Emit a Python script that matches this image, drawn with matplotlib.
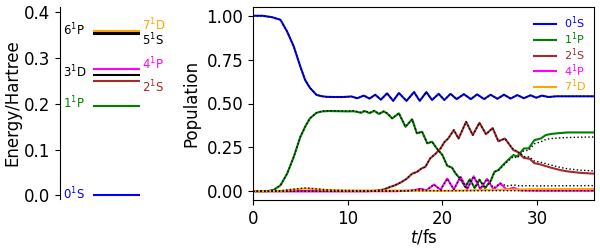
import matplotlib
matplotlib.use("Agg")
import matplotlib.pyplot as plt

# ---------------- data ----------------
# energy levels (Hartree)
level_names = ["0$^1$S", "1$^1$P", "2$^1$S", "3$^1$D", "4$^1$P", "5$^1$S", "6$^1$P", "7$^1$D"]
level_energy = [0.0, 0.194, 0.249, 0.262, 0.275, 0.351, 0.354, 0.358]
level_colors = ["blue", "green", "brown", "black", "magenta", "black", "black", "orange"]
level_label_side = ["left", "left", "right", "left", "right", "right", "left", "right"]
level_label_y = [0.004, 0.201, 0.236, 0.269, 0.287, 0.338, 0.361, 0.372]

# populations (t in fs)
t_0S = [0, 1.0, 2.0, 2.9, 3.6, 4.3, 5.0, 5.5, 6.0, 6.7, 7.3, 7.8, 8.5, 9.5, 10.4, 11.0, 11.7, 12.3,
        12.9, 13.5, 14.15, 14.8, 15.4, 16.2, 17.0, 17.6, 18.3, 18.9, 19.6, 20.2, 20.85, 21.5, 22.26,
        23.0, 23.66, 24.4, 25.08, 25.8, 26.5, 27.2, 27.9, 28.6, 29.3, 29.9, 30.5, 31.2, 32.0, 34.0, 36.0]
pop_0S = [1.0, 1.0, 0.992, 0.977, 0.91, 0.825, 0.71, 0.634, 0.59, 0.549, 0.541, 0.538, 0.537, 0.537,
          0.54, 0.53, 0.545, 0.528, 0.55, 0.522, 0.558, 0.515, 0.56, 0.515, 0.565, 0.515, 0.565, 0.52,
          0.555, 0.52, 0.555, 0.525, 0.553, 0.525, 0.552, 0.525, 0.55, 0.527, 0.55, 0.528, 0.548, 0.53,
          0.547, 0.533, 0.545, 0.537, 0.541, 0.541, 0.541]

t_1P = [0, 1.5, 2.2, 2.9, 3.6, 4.3, 5.0, 5.5, 6.0, 6.7, 7.3, 8.0, 9.0, 10.0, 10.6, 11.0, 11.4, 11.8,
        12.3, 12.8, 13.3, 13.8, 14.15, 14.7, 15.4, 16.1, 16.8, 17.3, 17.85, 18.4, 18.9, 19.4, 20.0,
        20.5, 21.0, 21.4, 21.9, 22.4, 22.9, 23.4, 23.9, 24.5, 25.1, 25.5, 25.9, 26.4, 26.9, 27.5,
        27.9, 28.6, 29.1, 29.7, 30.4, 30.9, 31.4, 32.1, 33.2, 34.5, 36.0]
pop_1P = [0, 0, 0.008, 0.034, 0.10, 0.196, 0.31, 0.367, 0.415, 0.447, 0.455, 0.457, 0.456, 0.455,
          0.456, 0.452, 0.447, 0.457, 0.445, 0.458, 0.44, 0.455, 0.444, 0.415, 0.444, 0.367, 0.41,
          0.33, 0.339, 0.273, 0.282, 0.244, 0.206, 0.145, 0.135, 0.10, 0.07, 0.025, 0.068, 0.018,
          0.066, 0.018, 0.06, 0.112, 0.12, 0.15, 0.177, 0.206, 0.198, 0.244, 0.244, 0.291, 0.301,
          0.32, 0.326, 0.33, 0.335, 0.335, 0.335]
t_ref_1P = [0, 1.5, 2.2, 2.9, 3.6, 4.3, 5.0, 5.5, 6.0, 6.7, 7.3, 8.0, 9.0, 10.0, 10.6, 11.0, 11.4, 11.8,
            12.3, 12.8, 13.3, 13.8, 14.15, 14.7, 15.4, 16.1, 16.8, 17.3, 17.85, 18.4, 18.9, 19.4, 20.0,
            20.5, 21.0, 21.4, 21.9, 22.4, 22.9, 23.4, 23.9, 24.5, 25.1, 25.5, 25.9, 26.4, 26.9, 27.5,
            27.9, 28.6, 29.1, 29.7, 30.4, 30.9, 31.4, 32.1, 33.2, 34.5, 36.0]
ref_1P = [0, 0, 0.008, 0.034, 0.10, 0.196, 0.31, 0.367, 0.415, 0.447, 0.457, 0.459, 0.458, 0.457,
          0.458, 0.454, 0.449, 0.459, 0.447, 0.46, 0.442, 0.456, 0.445, 0.416, 0.445, 0.368, 0.41,
          0.33, 0.339, 0.273, 0.282, 0.244, 0.206, 0.145, 0.135, 0.10, 0.07, 0.025, 0.068, 0.018,
          0.066, 0.018, 0.06, 0.11, 0.118, 0.145, 0.17, 0.198, 0.19, 0.232, 0.232, 0.27, 0.282,
          0.295, 0.3, 0.303, 0.306, 0.308, 0.309]

t_2S = [0, 12.0, 13.0, 13.8, 14.5, 15.0, 15.6, 16.2, 16.8, 17.3, 17.8, 18.2, 18.7, 19.3, 19.8, 20.2,
        20.6, 21.2, 21.7, 22.5, 23.2, 23.9, 24.6, 25.3, 25.9, 26.6, 27.5, 27.9, 28.6, 29.2, 29.7,
        30.4, 31.4, 32.5, 33.2, 34.5, 36.0]
pop_2S = [0, 0, 0.003, 0.01, 0.025, 0.034, 0.05, 0.07, 0.10, 0.11, 0.13, 0.139, 0.187, 0.215, 0.244,
          0.28, 0.30, 0.349, 0.30, 0.396, 0.32, 0.39, 0.325, 0.36, 0.285, 0.30, 0.234, 0.225, 0.19,
          0.185, 0.16, 0.152, 0.135, 0.12, 0.113, 0.105, 0.10]
ref_2S = [0, 0, 0.003, 0.01, 0.025, 0.034, 0.05, 0.07, 0.10, 0.11, 0.13, 0.139, 0.187, 0.215, 0.244,
          0.28, 0.30, 0.349, 0.30, 0.396, 0.32, 0.39, 0.325, 0.36, 0.285, 0.30, 0.236, 0.23, 0.198,
          0.195, 0.172, 0.165, 0.15, 0.135, 0.128, 0.12, 0.116]

t_4P = [0, 15.0, 16.5, 17.2, 17.7, 18.3, 19.1, 19.8, 20.5, 21.2, 21.9, 22.6, 23.3, 24.0, 24.7, 25.4,
        26.1, 26.8, 27.5, 28.2, 29.0, 30.0, 32.0, 36.0]
pop_4P = [0, 0, 0.003, 0.008, 0.014, 0.005, 0.038, 0.008, 0.072, 0.01, 0.082, 0.012, 0.085, 0.012,
          0.07, 0.01, 0.045, 0.008, 0.02, 0.005, 0.004, 0.003, 0.003, 0.003]
ref_4P = [0, 0, 0.003, 0.008, 0.014, 0.005, 0.038, 0.008, 0.072, 0.01, 0.082, 0.012, 0.085, 0.014,
          0.07, 0.018, 0.045, 0.03, 0.036, 0.03, 0.032, 0.03, 0.031, 0.032]

t_7D = [0, 3.0, 4.0, 5.0, 5.5, 6.0, 7.0, 8.0, 10.0, 14.0, 18.0, 20.0, 22.0, 24.0, 26.0, 28.0, 30.0, 33.0, 36.0]
pop_7D = [0, 0.002, 0.008, 0.013, 0.015, 0.014, 0.01, 0.006, 0.004, 0.004, 0.003, 0.002, 0.004,
          0.006, 0.008, 0.01, 0.012, 0.012, 0.013]
ref_7D = [0, 0.003, 0.01, 0.016, 0.018, 0.017, 0.012, 0.007, 0.004, 0.003, 0.003, 0.003, 0.003,
          0.003, 0.003, 0.003, 0.003, 0.003, 0.003]

series_names = ["0$^1$S", "1$^1$P", "2$^1$S", "4$^1$P", "7$^1$D"]
series_colors = ["blue", "green", "brown", "magenta", "orange"]

# ---------------- figure ----------------
fig = plt.figure(figsize=(6, 2.5), dpi=100)

# left: level diagram
axl = fig.add_axes([0.1, 0.204, 0.1667, 0.768])
for e, c in zip(level_energy, level_colors):
    axl.plot([0.33, 0.80], [e, e], color=c, lw=1.5, solid_capstyle="butt")
for name, c, side, ly in zip(level_names, level_colors, level_label_side, level_label_y):
    x = 0.03 if side == "left" else 0.82
    axl.text(x, ly, name, color=c, fontsize=8.5, ha="left", va="center", clip_on=False)
axl.set_xlim(0, 1)
axl.set_ylim(-0.008, 0.411)
axl.set_yticks([0.0, 0.1, 0.2, 0.3, 0.4])
axl.set_xticks([])
for s in ["top", "right", "bottom"]:
    axl.spines[s].set_visible(False)
axl.tick_params(axis="y", labelsize=12)
axl.set_ylabel("Energy/Hartree", fontsize=12, labelpad=2)

# right: populations
axr = fig.add_axes([0.4217, 0.2, 0.5683, 0.772])
solid = [(t_0S, pop_0S), (t_1P, pop_1P), (t_2S, pop_2S), (t_4P, pop_4P), (t_7D, pop_7D)]
refs = [(t_0S, pop_0S), (t_ref_1P, ref_1P), (t_2S, ref_2S), (t_4P, ref_4P), (t_7D, ref_7D)]
handles = []
for (t, p), c, n in zip(solid, series_colors, series_names):
    h, = axr.plot(t, p, color=c, lw=1.5, label=n)
    handles.append(h)
for t, p in refs:
    axr.plot(t, p, color="black", lw=1.0, ls=":")
axr.set_xlim(0, 36)
axr.set_ylim(-0.05, 1.05)
axr.set_xticks([0, 10, 20, 30])
axr.set_yticks([0.0, 0.25, 0.5, 0.75, 1.0])
axr.set_yticklabels(["0.00", "0.25", "0.50", "0.75", "1.00"])
axr.tick_params(labelsize=12)
axr.set_xlabel("$t$/fs", fontsize=12, labelpad=0)
axr.set_ylabel("Population", fontsize=12)
leg = axr.legend(handles=handles, loc="upper right", frameon=False, fontsize=8,
                 labelspacing=-0.08, handlelength=2.0, handletextpad=0.7,
                 borderaxespad=0.3)
for txt, c in zip(leg.get_texts(), series_colors):
    txt.set_color(c)

fig.savefig("out.png", dpi=100)
